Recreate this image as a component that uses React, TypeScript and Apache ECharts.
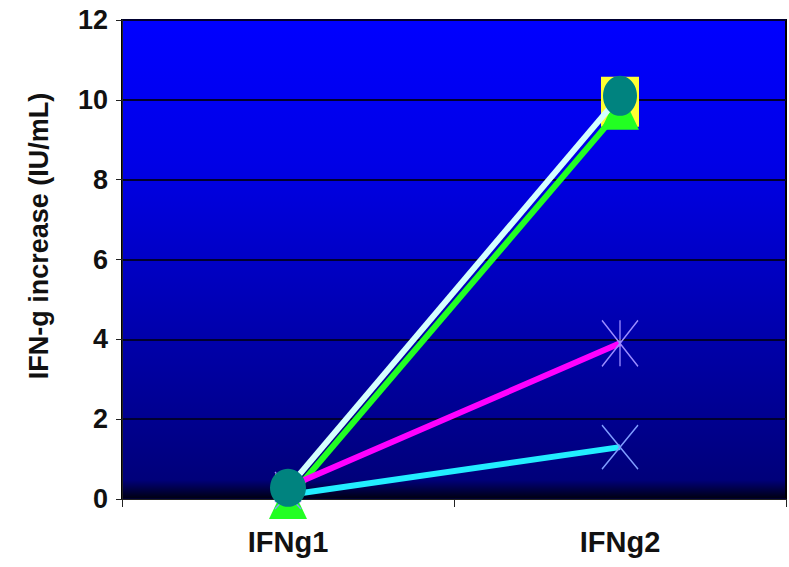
import React, { useEffect, useRef } from "react";
import * as echarts from "echarts";

const categories = ["IFNg1", "IFNg2"];
const squareSeries = [0.3, 9.95];
const triangleSeries = [0.0, 9.75];
const circleSeries = [0.28, 10.1];
const starSeries = [0.3, 3.9];
const crossSeries = [0.1, 1.3];
const yTicks = [0, 2, 4, 6, 8, 10, 12];
const yAxisTitle = "IFN-g increase (IU/mL)";

export default function App() {
  const ref = useRef<HTMLDivElement>(null);
  useEffect(() => {
    if (!ref.current) return;
    const chart = echarts.init(ref.current, undefined, { renderer: "svg" });
    const font = "Liberation Sans, Arial, sans-serif";
    const starPath = "path://M10,0 L10,20 M0,0 L20,20 M20,0 L0,20";
    const crossPath = "path://M0,0 L20,20 M20,0 L0,20";
    const sizeBy = (first: number[], rest: number[]) => (_v: any, p: any) =>
      p.dataIndex === 0 ? first : rest;
    chart.setOption({
      animation: false,
      backgroundColor: "#ffffff",
      grid: {
        left: 122,
        right: 3,
        top: 20,
        bottom: 68,
        show: true,
        backgroundColor: new echarts.graphic.LinearGradient(0, 0, 0, 1, [
          { offset: 0, color: "#0000ff" },
          { offset: 0.3, color: "#0000e6" },
          { offset: 0.96, color: "#00007a" },
          { offset: 1, color: "#000010" },
        ]),
        borderColor: "#000000",
        borderWidth: 2,
      },
      graphic: [
        {
          type: "text",
          x: 39,
          y: 236,
          rotation: Math.PI / 2,
          style: {
            text: yAxisTitle,
            font: `bold 27px ${font}`,
            fill: "#111111",
            textAlign: "center",
            textVerticalAlign: "middle",
          },
        },
      ],
      xAxis: {
        type: "category",
        data: categories,
        boundaryGap: true,
        axisLine: { show: true, lineStyle: { color: "#222222", width: 1 } },
        axisTick: { show: true, length: 8, lineStyle: { color: "#222222" } },
        axisLabel: {
          color: "#111111",
          fontFamily: font,
          fontWeight: "bold",
          fontSize: 29,
          margin: 28,
        },
        splitLine: { show: false },
      },
      yAxis: {
        type: "value",
        min: yTicks[0],
        max: yTicks[yTicks.length - 1],
        interval: 2,
        axisLine: { show: true, lineStyle: { color: "#222222", width: 1 } },
        axisTick: { show: true, length: 6, inside: false, lineStyle: { color: "#222222" } },
        axisLabel: {
          color: "#111111",
          fontFamily: font,
          fontWeight: "bold",
          fontSize: 27,
          margin: 14,
        },
        splitLine: { show: true, lineStyle: { color: "#000030", width: 2 } },
      },
      series: [
        {
          type: "line",
          name: "square",
          data: squareSeries,
          symbol: "rect",
          symbolSize: sizeBy([26, 26], [38, 50]),
          itemStyle: { color: "#ffff33" },
          lineStyle: { color: "#ccffff", width: 6, opacity: 0 },
          clip: false,
          z: 2,
        },
        {
          type: "line",
          name: "triangle",
          data: triangleSeries,
          symbol: "triangle",
          symbolSize: [38, 40],
          itemStyle: { color: "#22ff22" },
          lineStyle: { color: "#22ff22", width: 6 },
          clip: false,
          z: 3,
        },
        {
          type: "line",
          name: "star",
          data: starSeries,
          symbol: starPath,
          symbolSize: sizeBy([26, 30], [36, 46]),
          itemStyle: { color: "transparent", borderColor: "#9a8cff", borderWidth: 1.5 },
          lineStyle: { color: "#ff00ff", width: 6 },
          clip: false,
          z: 3,
        },
        {
          type: "line",
          name: "cross",
          data: crossSeries,
          symbol: crossPath,
          symbolSize: sizeBy([26, 28], [36, 44]),
          itemStyle: { color: "transparent", borderColor: "#7f9cff", borderWidth: 1.5 },
          lineStyle: { color: "#22eeff", width: 6 },
          clip: false,
          z: 3,
        },
        {
          type: "line",
          name: "circle",
          data: circleSeries,
          symbol: "circle",
          symbolSize: sizeBy([36, 38], [34, 40]),
          itemStyle: { color: "#00837f" },
          lineStyle: { color: "#d4ffff", width: 6 },
          clip: false,
          z: 4,
        },
      ],
    });
    return () => chart.dispose();
  }, []);
  return (
    <div
      ref={ref}
      style={{ position: "fixed", left: 0, top: 0, width: 789, height: 567 }}
    />
  );
}
